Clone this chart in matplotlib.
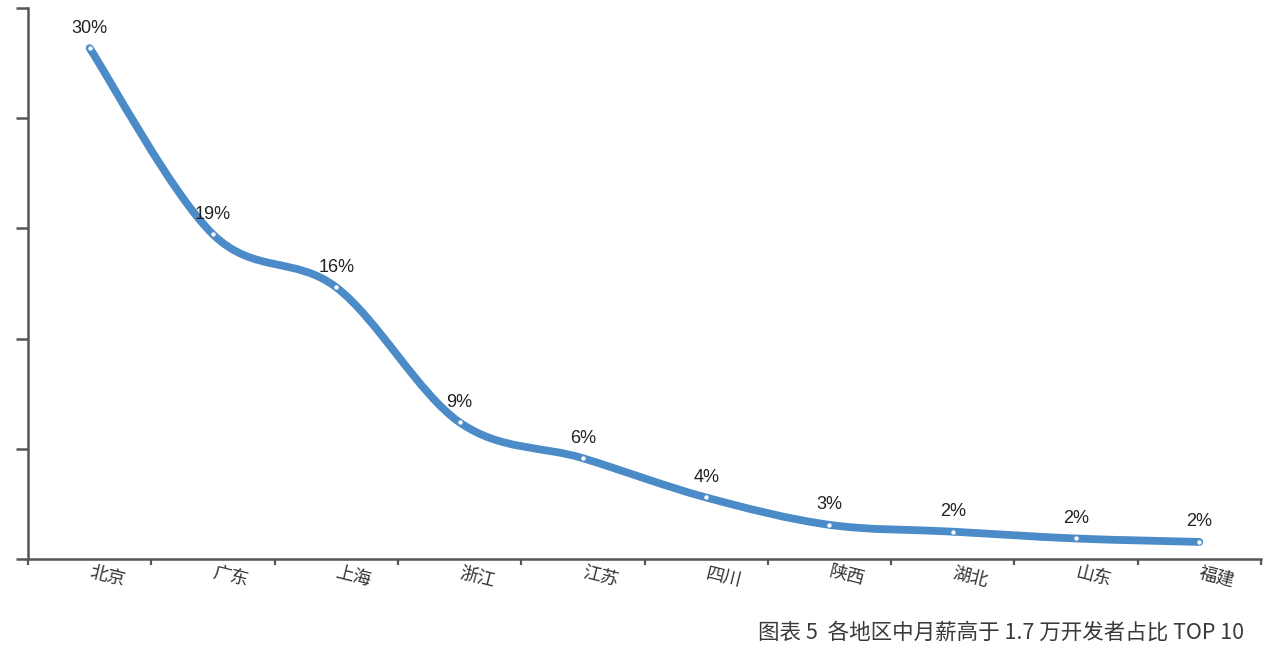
import numpy as np
import matplotlib
matplotlib.use("Agg")
import matplotlib.pyplot as plt
from matplotlib.path import Path
from matplotlib.patches import PathPatch

plt.rcParams['font.family'] = ['Liberation Sans', 'Noto Sans CJK SC', 'DejaVu Sans']

# data (share of developers, %)
regions = ["北京", "广东", "上海", "浙江", "江苏", "四川", "陕西", "湖北", "山东", "福建"]
shares = [29.9, 19.0, 15.9, 8.0, 5.9, 3.6, 2.0, 1.6, 1.2, 1.0]
share_labels = ["30%", "19%", "16%", "9%", "6%", "4%", "3%", "2%", "2%", "2%"]
caption = "图表 5  各地区中月薪高于 1.7 万开发者占比 TOP 10"

line_color = "#4a8bc8"
axis_color = "#555555"

fig = plt.figure(figsize=(12.8, 6.52), dpi=100)
fig.patch.set_facecolor("white")
ax = fig.add_axes([28 / 1280, (652 - 559) / 652, (1261 - 28) / 1280, (559 - 8) / 652])

x = np.arange(len(regions), dtype=float)
y = np.array(shares)

# smoothed line: Catmull-Rom style bezier through the points (like a spreadsheet "smooth line")
px = np.concatenate([[x[0]], x, [x[-1]]])
py = np.concatenate([[y[0]], y, [y[-1]]])
verts = [(x[0], y[0])]
codes = [Path.MOVETO]
for i in range(1, len(px) - 2):
    c1 = (px[i] + (px[i + 1] - px[i - 1]) / 6, py[i] + (py[i + 1] - py[i - 1]) / 6)
    c2 = (px[i + 1] - (px[i + 2] - px[i]) / 6, py[i + 1] - (py[i + 2] - py[i]) / 6)
    verts += [c1, c2, (px[i + 1], py[i + 1])]
    codes += [Path.CURVE4] * 3
curve = PathPatch(Path(verts, codes), facecolor="none", edgecolor=line_color,
                  linewidth=5.6, capstyle="round", joinstyle="round", zorder=3)
ax.add_patch(curve)

ax.plot(x, y, linestyle="none", marker="o", markersize=3.8,
        markerfacecolor="white", markeredgecolor=line_color, markeredgewidth=0.6, zorder=4)

for xi, yi, lab in zip(x, y, share_labels):
    ax.annotate(lab, (xi, yi), xytext=(0, 20), textcoords="offset pixels",
                ha="center", va="center", fontsize=13, color="#222222", zorder=5)

ymax = 32.25
ax.set_xlim(-0.5, len(regions) - 0.5)
ax.set_ylim(0, ymax)
ax.set_yticks(np.linspace(0, ymax, 6))
ax.set_yticklabels([])
ax.set_xticks(np.arange(len(regions) + 1) - 0.5)
ax.set_xticklabels([])
ax.tick_params(axis="y", direction="out", length=9, width=1.8, color=axis_color)
ax.tick_params(axis="x", direction="out", length=4, width=1.6, color=axis_color)

for side in ["top", "right"]:
    ax.spines[side].set_visible(False)
for side in ["left", "bottom"]:
    ax.spines[side].set_color(axis_color)
    ax.spines[side].set_linewidth(1.8)

for xi, name in zip(x, regions):
    ax.text(xi + 0.14, -1.05, name, ha="center", va="center", rotation=-14,
            rotation_mode="anchor", fontsize=13, color="#333333",
            family=["Noto Sans CJK SC", "DejaVu Sans"])

fig.text(1244 / 1280, 1 - 633 / 652, caption, ha="right", va="center",
         fontsize=15.5, color="#3a3a3a", family=["Noto Sans CJK SC", "DejaVu Sans"])

fig.savefig("out.png", dpi=100, facecolor="white")
